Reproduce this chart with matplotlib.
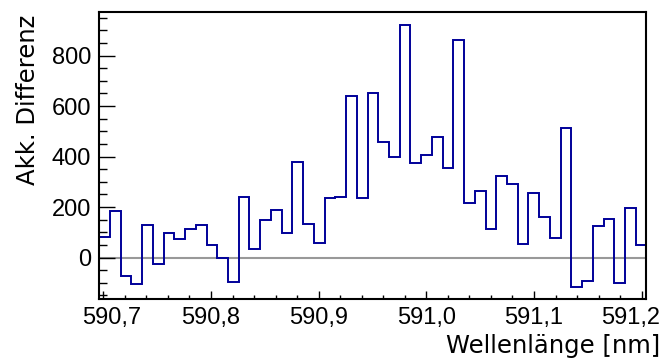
import numpy as np
import matplotlib
matplotlib.use("Agg")
import matplotlib.pyplot as plt
from matplotlib.ticker import MultipleLocator, FuncFormatter
from matplotlib.transforms import ScaledTranslation

# histogram range and bin contents
X_MIN = 590.6963
X_MAX = 591.2044
counts = [83, 186, -72, -103, 130, -25, 99, 75, 115, 128,
          48, -2, -96, 239, 36, 148, 189, 97, 378, 132,
          57, 236, 242, 640, 236, 650, 457, 399, 922, 374,
          408, 477, 354, 862, 217, 265, 114, 325, 293, 55,
          256, 161, 77, 514, -116, -94, 124, 153, -101, 198, 51]
edges = np.linspace(X_MIN, X_MAX, len(counts) + 1)
first_tick, last_tick = 590.7, 591.2


def fmt(v):
    return f"{v:.1f}".replace(".", ",")


plt.rcParams["font.family"] = ["Liberation Sans", "DejaVu Sans"]
plt.rcParams["font.size"] = 17

fig = plt.figure(figsize=(6.62, 3.61), dpi=100)
ax = fig.add_axes([0.150, 0.172, 0.8265, 0.795])

ax.axhline(0, color="#999999", lw=1.5, zorder=1)
ax.stairs(counts, edges, color="#000099", lw=1.4, zorder=2)

ax.set_xlim(X_MIN, X_MAX)
ax.set_ylim(-163.5, 973)

# ROOT-like ticks
ax.xaxis.set_major_locator(MultipleLocator(0.1))
ax.xaxis.set_minor_locator(MultipleLocator(0.02))
ax.yaxis.set_major_locator(MultipleLocator(200))
ax.yaxis.set_minor_locator(MultipleLocator(50))
# the end labels are drawn separately below (pulled inwards like in the original)
ax.xaxis.set_major_formatter(FuncFormatter(
    lambda v, p: "" if abs(v - first_tick) < 1e-6 or abs(v - last_tick) < 1e-6 else fmt(v)))
ax.tick_params(axis="both", which="both", direction="in", top=False, right=False, width=1.0)
ax.tick_params(axis="x", which="major", length=6, pad=6)
ax.tick_params(axis="x", which="minor", length=3)
ax.tick_params(axis="y", which="major", length=11.5, pad=6)
ax.tick_params(axis="y", which="minor", length=5.8)
for s in ax.spines.values():
    s.set_linewidth(1.5)

pad = ScaledTranslation(0, -(6 + 0) / 72, fig.dpi_scale_trans)
ax.text(first_tick, 0, fmt(first_tick), ha="center", va="top",
        transform=ax.get_xaxis_transform() + pad
        + ScaledTranslation(8.5 / 100, 0, fig.dpi_scale_trans))
ax.text(last_tick, 0, fmt(last_tick), ha="center", va="top",
        transform=ax.get_xaxis_transform() + pad
        + ScaledTranslation(-11.5 / 100, 0, fig.dpi_scale_trans))

ax.set_ylabel("Akk. Differenz", loc="top", family=["DejaVu Sans"], fontsize=17.5)
ax.yaxis.set_label_coords(-0.108, 0.9895)
fig.text(0.997, 0.022, "Wellenlänge [nm]", ha="right", va="baseline",
         family=["DejaVu Sans"], fontsize=17.5)

fig.savefig("out.png", dpi=100)
